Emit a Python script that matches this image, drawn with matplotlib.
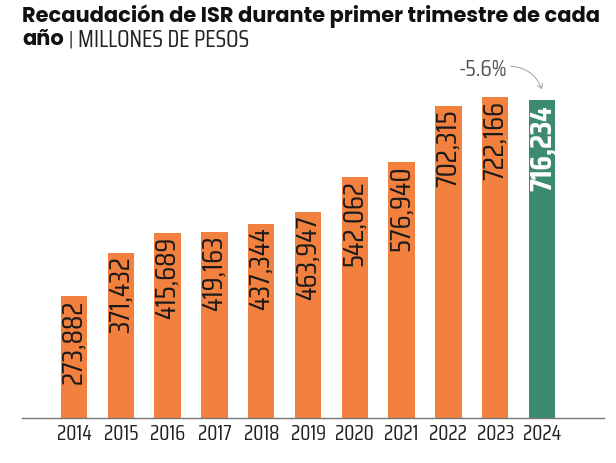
import numpy as np
import matplotlib.pyplot as plt
from matplotlib import font_manager
from matplotlib.patches import FancyArrowPatch

# Data
years = ["2014", "2015", "2016", "2017", "2018", "2019",
         "2020", "2021", "2022", "2023", "2024"]
isr = [273882, 371432, 415689, 419163, 437344, 463947,
       542062, 576940, 702315, 722166, 716234]
labels = ["273,882", "371,432", "415,689", "419,163", "437,344", "463,947",
          "542,062", "576,940", "702,315", "722,166", "716,234"]
change_label = "-5.6%"

orange = "#F2803F"
green = "#3D8A73"


def pick(cands, weight=None):
    fonts = font_manager.fontManager.ttflist
    ok = []
    for c in cands:
        ws = [f.weight for f in fonts if f.name == c]
        if ws and (weight is None or any(isinstance(w, int) and w >= weight
                                         or w in ("bold", "heavy", "black")
                                         for w in ws)):
            ok.append(c)
    return ok + ["DejaVu Sans"]


title_font = pick(["Jost", "League Spartan", "Kumbh Sans", "Poppins",
                   "Montserrat"], weight=700)
num_font = pick(["Saira Condensed", "Barlow Condensed", "Roboto Condensed"])

plt.rcParams["font.family"] = num_font

W, H = 616, 463
fig = plt.figure(figsize=(W / 100, H / 100), dpi=100)
# axes: baseline at y=418 px, spanning x 22..604 px
ax_left, ax_right = 22, 604
ax_h = 0.8
ax = fig.add_axes([ax_left / W, 1 - 418 / H, (ax_right - ax_left) / W, ax_h])

x = np.arange(len(years))
colors = [orange] * (len(years) - 1) + [green]
ax.bar(x, isr, width=0.56, color=colors)

# scale: 722166 sits 321 px above baseline
ymax = 722166 * ax_h * H / 321
ax.set_ylim(0, ymax)
step = 46.8
first = 74
ax.set_xlim(-(first - ax_left) / step, 10 + (ax_right - (first + 10 * step)) / step)

for i, (v, lab) in enumerate(zip(isr, labels)):
    last = i == len(years) - 1
    ax.text(i, v - (14000 if last else 8000), lab, rotation=90,
            ha="center", va="top",
            fontsize=22 if last else 21,
            color="white" if last else "#1a1a1a",
            fontweight="bold" if last else "normal",
            family=num_font)

ax.set_xticks(x)
ax.set_xticklabels(years, fontsize=15, color="#222222", family=num_font)
ax.tick_params(axis="x", length=0, pad=4)
ax.set_yticks([])
for s in ["top", "right", "left"]:
    ax.spines[s].set_visible(False)
ax.spines["bottom"].set_color("#777777")
ax.spines["bottom"].set_linewidth(1.0)

# change annotation
fig.text(483 / W, 1 - 70 / H, change_label, ha="center", va="center",
         fontsize=17, color="#555555", family=num_font)
arrow = FancyArrowPatch((508 / W, 1 - 66 / H), (543 / W, 1 - 92 / H),
                        transform=fig.transFigure,
                        connectionstyle="arc3,rad=-0.35",
                        arrowstyle="->,head_length=3,head_width=2",
                        color="#aaaaaa", linewidth=0.8)
fig.patches.append(arrow)


def fit_text(xpx, ypx, s, target_w, size, **kw):
    t = fig.text(xpx / W, 1 - ypx / H, s, fontsize=size, ha="left",
                 va="center", **kw)
    fig.canvas.draw()
    w = t.get_window_extent().width
    t.set_fontsize(size * target_w / w)
    fig.canvas.draw()
    return t


# titles
title = fit_text(22, 16, "Recaudación de ISR durante primer trimestre de cada",
                 578, 16, fontweight="bold", color="#111111", family=title_font)
ano = fig.text(22 / W, 1 - 40 / H, "año", fontsize=title.get_fontsize(),
               fontweight="bold", color="#111111", ha="left", va="center",
               family=title_font)
fig.canvas.draw()
x_end = ano.get_window_extent().x1
fig.text((x_end + 5) / W, 1 - 40 / H, "|", fontsize=14, color="#222222",
         ha="left", va="center", family=num_font)
fit_text(x_end + 14, 40, "MILLONES DE PESOS", 172, 13, color="#222222",
         family=num_font)

fig.savefig("out.png", dpi=100)
